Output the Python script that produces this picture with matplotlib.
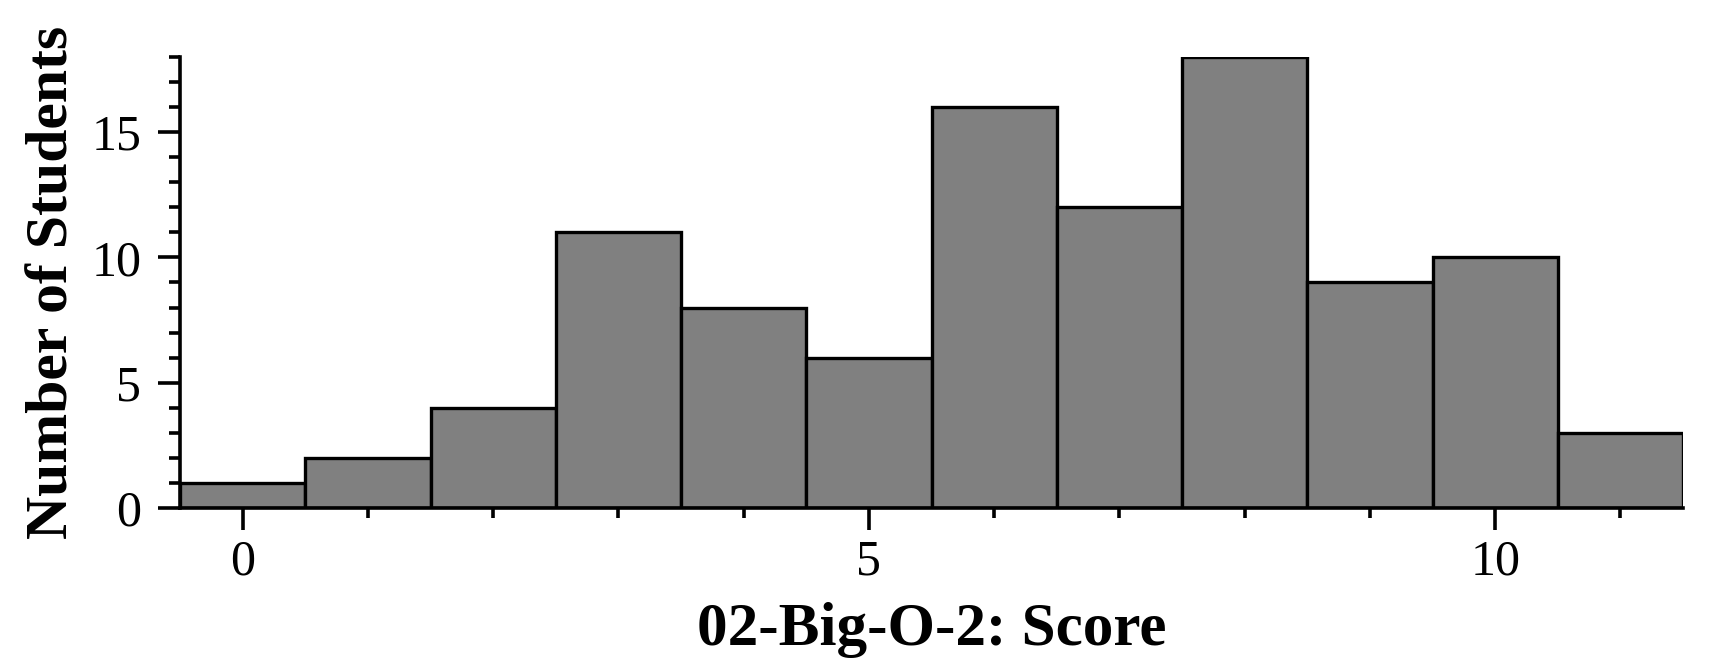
import matplotlib
matplotlib.use('Agg')
from matplotlib import pyplot as plt
from matplotlib.ticker import MultipleLocator

scores = [0, 1, 2, 3, 4, 5, 6, 7, 8, 9, 10, 11]
counts = [1, 2, 4, 11, 8, 6, 16, 12, 18, 9, 10, 3]
x_label = '02-Big-O-2: Score'
y_label = 'Number of Students'

plt.rcParams['font.family'] = ['Liberation Serif', 'DejaVu Serif']

fig = plt.figure(figsize=(17.2, 6.7), dpi=100)
ax = fig.add_axes([0.1047, 0.2418, 0.8738, 0.6732])

ax.bar(scores, counts, width=1.0, color='#808080', edgecolor='black', linewidth=2.4)

ax.set_xlim(-0.5, 11.5)
ax.set_ylim(0, 18)
ax.xaxis.set_major_locator(MultipleLocator(5))
ax.xaxis.set_minor_locator(MultipleLocator(1))
ax.yaxis.set_major_locator(MultipleLocator(5))
ax.yaxis.set_minor_locator(MultipleLocator(1))

for s in ['top', 'right']:
    ax.spines[s].set_visible(False)
for s in ['left', 'bottom']:
    ax.spines[s].set_linewidth(2.6)

ax.tick_params(which='major', length=16, width=2.6, labelsize=36, pad=6)
ax.tick_params(axis='y', which='major', pad=12)
ax.tick_params(which='minor', length=7, width=2.6)
ax.tick_params(axis='y', which='minor', length=8)

ax.set_xlabel(x_label, fontsize=44, fontweight='bold', labelpad=12)
ax.set_ylabel(y_label, fontsize=43, fontweight='bold', labelpad=8)

fig.savefig('out.png', dpi=100)
